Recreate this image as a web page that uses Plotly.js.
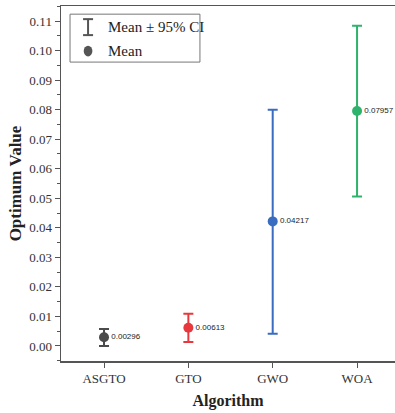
<!DOCTYPE html>
<html>
<head>
<meta charset="utf-8">
<script src="https://cdn.plot.ly/plotly-3.0.1.min.js"></script>
<style>html,body{margin:0;padding:0;background:#fff;}#chart{width:395px;height:413px;}</style>
</head>
<body>
<div id="chart"></div>
<script>
var algorithms = ["ASGTO", "GTO", "GWO", "WOA"];
var meanValues = [0.00296, 0.00613, 0.04217, 0.07957];
var ciUpper = [0.0057, 0.0109, 0.0800, 0.1084];
var ciLower = [0.0000, 0.00135, 0.0041, 0.0506];
var meanLabels = ["0.00296", "0.00613", "0.04217", "0.07957"];
var colors = ["#4b4b4b", "#e8383d", "#3a6cc0", "#2eb36c"];

var traces = algorithms.map(function (a, i) {
  return {
    type: "scatter",
    mode: "markers+text",
    x: [a],
    y: [meanValues[i]],
    text: [meanLabels[i]],
    textposition: "middle right",
    textfont: {family: "Liberation Sans, Arial, sans-serif", size: 8, color: "#222"},
    marker: {size: 10, color: colors[i], symbol: "circle"},
    error_y: {
      type: "data",
      symmetric: false,
      array: [ciUpper[i] - meanValues[i]],
      arrayminus: [meanValues[i] - ciLower[i]],
      color: colors[i],
      thickness: 2,
      width: 5
    },
    showlegend: false,
    cliponaxis: false,
    hoverinfo: "skip"
  };
});

var serif = "Liberation Serif, Times New Roman, serif";
var axisColor = "#555";

var layout = {
  width: 395,
  height: 413,
  margin: {l: 61, r: 0, t: 6, b: 52},
  paper_bgcolor: "#fff",
  plot_bgcolor: "#fff",
  font: {family: serif, size: 13, color: "#222"},
  xaxis: {
    type: "category",
    range: [-0.51, 3.45],
    showline: true,
    linecolor: axisColor,
    linewidth: 1.5,
    mirror: true,
    ticks: "outside",
    ticklen: 5,
    tickcolor: axisColor,
    tickfont: {family: serif, size: 13, color: "#333"},
    showgrid: false,
    zeroline: false,
    title: {text: "<b>Algorithm</b>", font: {family: serif, size: 16, color: "#222"}, standoff: 9}
  },
  yaxis: {
    range: [-0.0051, 0.1151],
    showline: true,
    linecolor: axisColor,
    linewidth: 1.5,
    mirror: false,
    ticks: "outside",
    ticklen: 5,
    tickcolor: axisColor,
    tick0: 0,
    dtick: 0.01,
    tickformat: ".2f",
    tickfont: {family: serif, size: 13, color: "#333"},
    minor: {ticks: "outside", ticklen: 3, tickcolor: axisColor, dtick: 0.005, tick0: 0},
    showgrid: false,
    zeroline: false,
    title: {text: "<b>Optimum Value</b>", font: {family: serif, size: 17, color: "#222"}, standoff: 3}
  },
  shapes: [
    {type: "rect", xref: "paper", yref: "paper", x0: 0.027, x1: 0.416, y0: 0.842, y1: 0.977,
     line: {color: "#777", width: 1}, fillcolor: "rgba(255,255,255,0)"},
    {type: "line", xref: "paper", yref: "paper", x0: 0.081, x1: 0.081, y0: 0.918, y1: 0.963,
     line: {color: "#555", width: 2}},
    {type: "line", xref: "paper", yref: "paper", x0: 0.066, x1: 0.096, y0: 0.963, y1: 0.963,
     line: {color: "#555", width: 2}},
    {type: "line", xref: "paper", yref: "paper", x0: 0.066, x1: 0.096, y0: 0.918, y1: 0.918,
     line: {color: "#555", width: 2}},
    {type: "circle", xref: "paper", yref: "paper", x0: 0.068, x1: 0.094, y0: 0.858, y1: 0.888,
     line: {color: "#555", width: 0}, fillcolor: "#555"}
  ],
  annotations: [
    {xref: "paper", yref: "paper", x: 0.135, y: 0.941, xanchor: "left", yanchor: "middle",
     text: "Mean ± 95% CI", showarrow: false, font: {family: serif, size: 15, color: "#222"}},
    {xref: "paper", yref: "paper", x: 0.135, y: 0.873, xanchor: "left", yanchor: "middle",
     text: "Mean", showarrow: false, font: {family: serif, size: 15, color: "#222"}}
  ]
};

Plotly.newPlot("chart", traces, layout, {displayModeBar: false, staticPlot: true});
</script>
</body>
</html>
